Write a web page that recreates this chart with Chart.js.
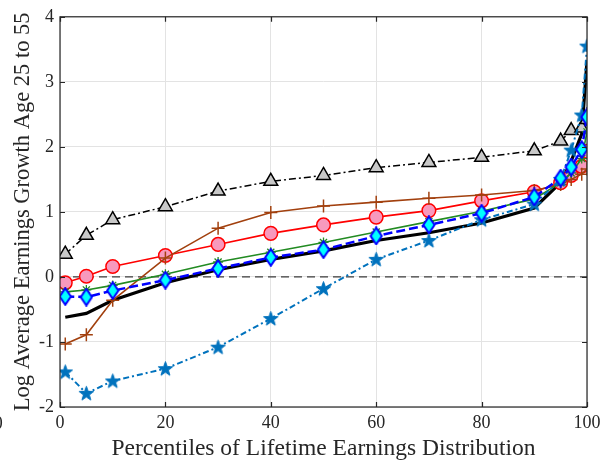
<!DOCTYPE html>
<html>
<head>
<meta charset="utf-8">
<script src="https://cdn.jsdelivr.net/npm/chart.js@4/dist/chart.umd.min.js"></script>
<style>
  html, body { margin: 0; padding: 0; background: #fff; }
  #wrap { width: 612px; height: 463px; }
</style>
</head>
<body>
<div id="wrap"><canvas id="c" width="612" height="463"></canvas></div>
<script>
// Percentile grid shared by every series
const percentiles = [1, 5, 10, 20, 30, 40, 50, 60, 70, 80, 90, 95, 97, 99, 100];

// Log average earnings growth, age 25 to 55, per series
const growthSolid    = [-0.62, -0.56, -0.36, -0.09, 0.11, 0.27, 0.40, 0.56, 0.68, 0.83, 1.06, 1.45, 1.78, 2.20, 3.33];
const growthTriangle = [0.35, 0.64, 0.88, 1.08, 1.32, 1.47, 1.56, 1.68, 1.76, 1.84, 1.94, 2.09, 2.25, 2.29, 2.42];
const growthPlus     = [-1.03, -0.89, -0.36, 0.29, 0.75, 0.99, 1.09, 1.15, 1.21, 1.26, 1.33, 1.42, 1.50, 1.58, 1.66];
const growthCircle   = [-0.09, 0.01, 0.16, 0.33, 0.50, 0.67, 0.80, 0.92, 1.02, 1.17, 1.31, 1.45, 1.56, 1.70, 1.93];
const growthAsterisk = [-0.23, -0.20, -0.13, 0.04, 0.23, 0.38, 0.53, 0.69, 0.85, 1.01, 1.20, 1.45, 1.60, 1.82, 2.23];
const growthDiamond  = [-0.30, -0.31, -0.21, -0.05, 0.13, 0.30, 0.42, 0.63, 0.80, 0.98, 1.23, 1.52, 1.69, 1.96, 2.46];
const growthStar     = [-1.46, -1.79, -1.60, -1.41, -1.08, -0.64, -0.18, 0.27, 0.56, 0.88, 1.12, 1.50, 1.95, 2.49, 3.55];

// Axis ticks
const xTicks = [0, 20, 40, 60, 80, 100];
const yTicks = [-2, -1, 0, 1, 2, 3, 4];

const FONT = '"Liberation Serif", "Times New Roman", serif';

function pts(ys) { return percentiles.map((x, i) => ({ x: x, y: ys[i] })); }

// Custom marker sprites
function diamondSprite() {
  const c = document.createElement('canvas');
  c.width = 14; c.height = 19;
  const g = c.getContext('2d');
  g.beginPath();
  g.moveTo(7, 1.2); g.lineTo(12.6, 9.5); g.lineTo(7, 17.8); g.lineTo(1.4, 9.5); g.closePath();
  g.fillStyle = '#00ffff'; g.fill();
  g.lineWidth = 2; g.strokeStyle = '#0000ff'; g.lineJoin = 'miter'; g.stroke();
  return c;
}
function pentagramSprite() {
  const c = document.createElement('canvas');
  c.width = 17; c.height = 17;
  const g = c.getContext('2d');
  const cx = 8.5, cy = 9, R = 7.6, r = 3.1;
  g.beginPath();
  for (let k = 0; k < 10; k++) {
    const a = -Math.PI / 2 + k * Math.PI / 5;
    const rad = k % 2 === 0 ? R : r;
    const px = cx + rad * Math.cos(a), py = cy + rad * Math.sin(a);
    if (k === 0) g.moveTo(px, py); else g.lineTo(px, py);
  }
  g.closePath();
  g.fillStyle = '#0072bd'; g.fill();
  g.lineWidth = 1; g.strokeStyle = '#0072bd'; g.stroke();
  return c;
}

// Frame, inward ticks, zero reference and the stray left-edge label
const framePlugin = {
  id: 'frame',
  beforeDatasetsDraw(chart) {
    const { ctx, chartArea: a, scales } = chart;
    const y0 = scales.y.getPixelForValue(0);
    ctx.save();
    ctx.beginPath();
    ctx.setLineDash([8, 5]);
    ctx.strokeStyle = '#3c3c3c';
    ctx.lineWidth = 1.3;
    ctx.moveTo(a.left, y0); ctx.lineTo(a.right, y0);
    ctx.stroke();
    ctx.restore();
  },
  afterDraw(chart) {
    const { ctx, chartArea: a, scales } = chart;
    ctx.save();
    ctx.strokeStyle = '#262626';
    ctx.lineWidth = 1.2;
    ctx.setLineDash([]);
    ctx.strokeRect(a.left, a.top, a.right - a.left, a.bottom - a.top);
    const tl = 5;
    ctx.beginPath();
    xTicks.forEach(v => {
      const px = Math.round(scales.x.getPixelForValue(v)) + 0.5;
      ctx.moveTo(px, a.bottom); ctx.lineTo(px, a.bottom - tl);
      ctx.moveTo(px, a.top); ctx.lineTo(px, a.top + tl);
    });
    yTicks.forEach(v => {
      const py = Math.round(scales.y.getPixelForValue(v)) + 0.5;
      ctx.moveTo(a.left, py); ctx.lineTo(a.left + tl, py);
      ctx.moveTo(a.right, py); ctx.lineTo(a.right - tl, py);
    });
    ctx.stroke();
    ctx.fillStyle = '#262626';
    ctx.font = '18px ' + FONT;
    ctx.textAlign = 'center';
    ctx.textBaseline = 'middle';
    ctx.fillText('0', -1.8, 424);
    ctx.restore();
  }
};

const diamond = diamondSprite();
const pentagram = pentagramSprite();

new Chart(document.getElementById('c'), {
  type: 'line',
  data: {
    datasets: [
      {
        data: pts(growthDiamond), order: 0,
        borderColor: '#0000ff', borderWidth: 2.5, borderDash: [9, 4],
        pointStyle: diamond, pointRadius: 8, pointHoverRadius: 8
      },
      {
        data: pts(growthStar), order: 1,
        borderColor: '#0072bd', borderWidth: 2, borderDash: [6, 3, 2, 3],
        pointStyle: pentagram, pointRadius: 8, pointHoverRadius: 8
      },
      {
        data: pts(growthAsterisk), order: 2,
        borderColor: '#228b22', borderWidth: 1.6,
        pointStyle: 'star', pointRadius: 5, pointBorderColor: '#228b22', pointBorderWidth: 1.3,
        pointBackgroundColor: '#228b22'
      },
      {
        data: pts(growthPlus), order: 3,
        borderColor: '#a2400e', borderWidth: 1.6,
        pointStyle: 'cross', pointRadius: 6.5, pointBorderColor: '#a2400e', pointBorderWidth: 1.5
      },
      {
        data: pts(growthCircle), order: 4,
        borderColor: '#ff0000', borderWidth: 1.6,
        pointStyle: 'circle', pointRadius: 6.8, pointBorderColor: '#ff0000', pointBorderWidth: 1.5,
        pointBackgroundColor: '#f799bd'
      },
      {
        data: pts(growthTriangle), order: 5,
        borderColor: '#000000', borderWidth: 1.5, borderDash: [7, 3, 2, 3],
        pointStyle: 'triangle', pointRadius: 8, pointBorderColor: '#000000', pointBorderWidth: 1.5,
        pointBackgroundColor: '#c8c8c8'
      },
      {
        data: pts(growthSolid), order: 6,
        borderColor: '#000000', borderWidth: 3.2,
        pointRadius: 0, pointHoverRadius: 0
      }
    ]
  },
  options: {
    responsive: false,
    animation: false,
    devicePixelRatio: 1,
    events: [],
    layout: { padding: { top: 10, right: 25, left: 0, bottom: 0 } },
    plugins: { legend: { display: false }, tooltip: { enabled: false } },
    elements: { line: { tension: 0, fill: false } },
    scales: {
      x: {
        type: 'linear', min: 0, max: 100,
        afterFit(s) { s.height = 56; },
        afterBuildTicks(s) { s.ticks = xTicks.map(v => ({ value: v })); },
        grid: { color: '#e3e3e3', lineWidth: 1, drawTicks: false },
        border: { display: false },
        ticks: { padding: 5, color: '#262626', font: { family: FONT, size: 18 }, maxRotation: 0 },
        title: {
          display: true, text: 'Percentiles of Lifetime Earnings Distribution',
          color: '#262626', font: { family: FONT, size: 23.5 }, padding: { top: 0, bottom: 0 }
        }
      },
      y: {
        type: 'linear', min: -2, max: 4,
        afterFit(s) { s.width = 60; },
        afterBuildTicks(s) { s.ticks = yTicks.map(v => ({ value: v })); },
        grid: { color: '#e3e3e3', lineWidth: 1, drawTicks: false },
        border: { display: false },
        ticks: { padding: 6, color: '#262626', font: { family: FONT, size: 18 } },
        title: {
          display: true, text: 'Log Average Earnings Growth Age 25 to 55',
          color: '#262626', font: { family: FONT, size: 22.5 }, padding: { top: 10, bottom: 0 }
        }
      }
    }
  },
  plugins: [framePlugin]
});
</script>
</body>
</html>
